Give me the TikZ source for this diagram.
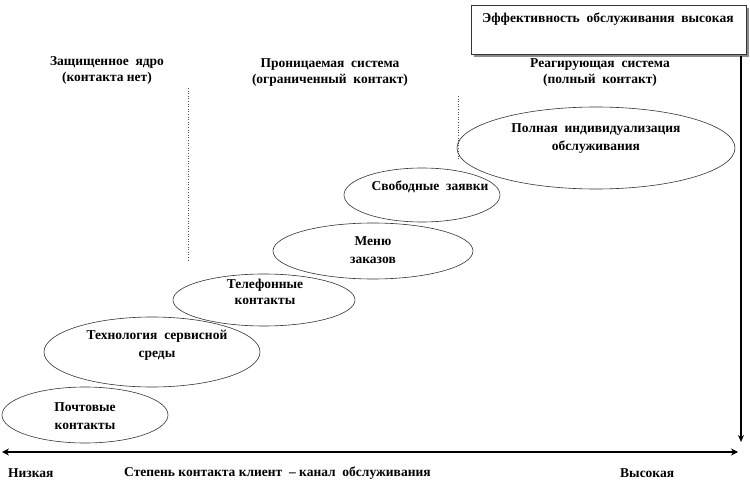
\documentclass[tikz,border=0pt]{standalone}
\usepackage{fontspec}
\setmainfont{Liberation Serif}
\usetikzlibrary{shapes.geometric,arrows.meta}
\begin{document}
\begin{tikzpicture}[x=1pt,y=-1pt,
  lbl/.style={font=\bfseries\fontsize{13.5}{16}\selectfont, inner sep=0pt, align=center},
  oval/.style={draw=black!80, line width=0.6pt, ellipse, inner sep=0pt},
  dots/.style={draw=black!70, line width=0.6pt, dotted},
  axis/.style={line width=2.4pt, black}]
\useasboundingbox (0,0) rectangle (750,492);
% top box with shadow
\fill[black!45] (474,8) rectangle (749,57);
\node[draw=black!80, fill=white, line width=0.6pt, minimum width=275pt, minimum height=49pt, anchor=north west, inner sep=0pt] (box) at (471,5) {};
\node[lbl, anchor=west] (boxt) at (482,19) {Эффективность\ \ обслуживания\ \ высокая};
% headers
\node[lbl] (h1) at (107,70) {Защищенное\ \ ядро\\(контакта нет)};
\node[lbl] (h2) at (330,73) {Проницаемая\ \ система\\(ограниченный\ \ контакт)};
\node[lbl] (h3) at (600,73) {Реагирующая\ \ система\\(полный\ \ контакт)};
% dotted separators
\coordinate (d1a) at (188,88); \coordinate (d1b) at (188,262);
\coordinate (d2a) at (458,96); \coordinate (d2b) at (458,160);
\draw[dots] (d1a) -- (d1b);
\draw[dots] (d2a) -- (d2b);
% ellipses
\node[oval, minimum width=166pt, minimum height=56pt] (e1) at (85,415) {};
\node[oval, minimum width=216pt, minimum height=70pt] (e2) at (152,352) {};
\node[oval, minimum width=182pt, minimum height=52pt] (e3) at (264,300) {};
\node[oval, minimum width=200pt, minimum height=56pt] (e4) at (373,251) {};
\node[oval, minimum width=156pt, minimum height=54pt] (e5) at (422,195) {};
\node[oval, minimum width=278pt, minimum height=82pt] (e6) at (596,148) {};
\node[lbl] (t1) at (85,416) {Почтовые\\[2pt]контакты};
\node[lbl] (t2) at (157,345) {Технология\ \ сервисной\\[2pt]среды};
\node[lbl] (t3) at (265,292) {Телефонные\\контакты};
\node[lbl] (t4) at (373,250) {Меню\\[2pt]заказов};
\node[lbl] (t5) at (430,187) {Свободные\ \ заявки};
\node[lbl] (t6) at (596,139) {Полная\ \ индивидуализация\\[2pt]обслуживания};
% axes
\coordinate (va) at (741,56); \coordinate (vb) at (741,442);
\draw[axis, -{Stealth[length=7pt,width=6pt]}] (va) -- (vb);
\coordinate (ha) at (2,452); \coordinate (hb) at (738,452);
\draw[axis, {Stealth[length=7pt,width=7pt]}-{Stealth[length=7pt,width=7pt]}] (ha) -- (hb);
% bottom labels
\node[lbl, anchor=west] (low) at (8,473) {Низкая};
\node[lbl, anchor=west] (mid) at (124,473) {Степень\ контакта\ клиент\ \ --\ канал\ \ обслуживания};
\node[lbl, anchor=west] (high) at (620,473) {Высокая};
\end{tikzpicture}
\end{document}
